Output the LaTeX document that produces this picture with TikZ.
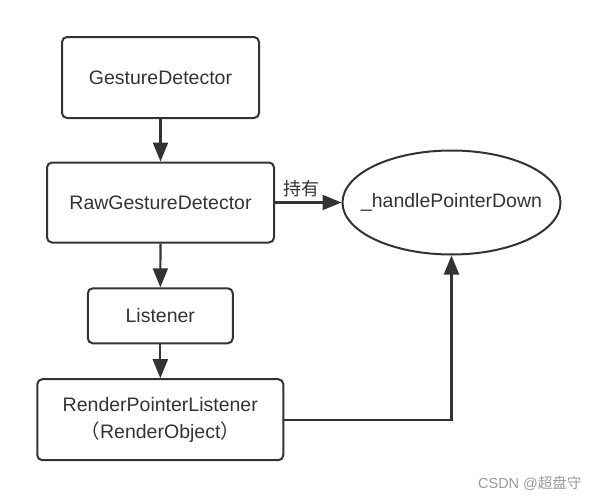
\documentclass[tikz,border=0pt]{standalone}
\usepackage{fontspec}
\setmainfont{Liberation Sans}
\newfontfamily\cjk{Noto Sans CJK SC}
\usetikzlibrary{shapes.geometric,arrows.meta}
\definecolor{ink}{HTML}{333333}
\definecolor{wm}{HTML}{9A9A9A}
\begin{document}
\begin{tikzpicture}[x=1pt,y=-1pt,
  box/.style={draw=ink,line width=2pt,rounded corners=5pt,inner sep=0pt,align=center,
    font=\fontsize{19.5}{27}\selectfont,text=ink},
  oval/.style={draw=ink,line width=2pt,ellipse,inner xsep=-16pt,inner ysep=0pt,
    font=\fontsize{19.5}{22}\selectfont,text=ink},
  conn/.style={draw=ink,line width=2.2pt,-{Triangle[length=19pt,width=15pt]}}]
\useasboundingbox (0,0) rectangle (598,498);
\node[box,minimum width=197pt,minimum height=81pt] (gd) at (160.5,77.5) {GestureDetector};
\node[box,minimum width=227pt,minimum height=80pt] (raw) at (160.5,202.5) {RawGestureDetector};
\node[box,minimum width=145pt,minimum height=55pt] (lis) at (160.3,315.8) {Listener};
\node[box,minimum width=246pt,minimum height=81pt] (rpl) at (160.3,419.7) {RenderPointerListener\\{\cjk （}RenderObject{\cjk ）}};
\node[oval,minimum width=218pt,minimum height=104pt] (hpd) at (451.5,202.5) {\_handlePointerDown};
\draw[conn] (gd) -- (raw);
\draw[conn] (raw) -- (lis);
\draw[conn] (lis) -- (rpl);
\draw[conn] (raw.east) -- node[pos=0.4,above=1pt,text=ink,font=\cjk\fontsize{18}{20}\selectfont] (lbl) {持有} (hpd.west);
\draw[conn] (rpl.east) -| (hpd.south);
\node[text=wm,font=\fontsize{14.5}{16}\selectfont,anchor=east] (wmk) at (585,483) {CSDN @{\cjk 超盘守}};
\end{tikzpicture}
\end{document}
